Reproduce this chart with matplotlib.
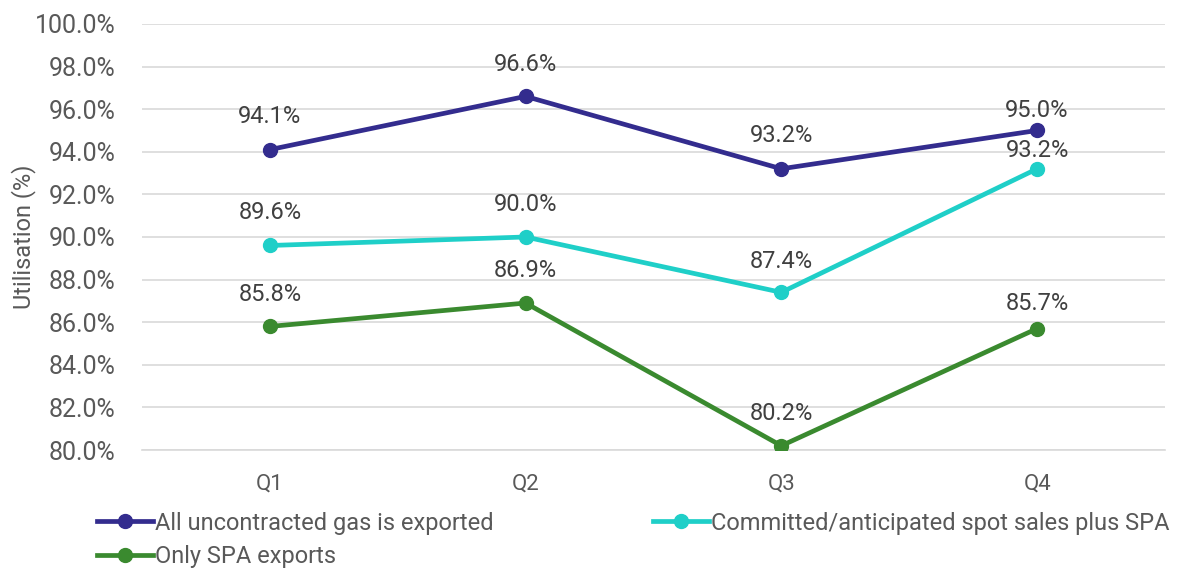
import matplotlib
matplotlib.use("Agg")
import matplotlib.pyplot as plt
from matplotlib.ticker import FuncFormatter

plt.rcParams['font.family'] = ['Roboto', 'DejaVu Sans']

quarters = ["Q1", "Q2", "Q3", "Q4"]
all_uncontracted = [94.1, 96.6, 93.2, 95.0]
committed_spot = [89.6, 90.0, 87.4, 93.2]
only_spa = [85.8, 86.9, 80.2, 85.7]

series = [
    ("All uncontracted gas is exported", all_uncontracted, "#332C8E"),
    ("Committed/anticipated spot sales plus SPA", committed_spot, "#1FCFC8"),
    ("Only SPA exports", only_spa, "#3A8A2F"),
]
# vertical label offsets (points) per series, per quarter
label_offsets = [
    [23.5, 23, 24, 14.5],
    [23.5, 23.5, 22.5, 13],
    [23, 23.5, 23, 18],
]

text_color = "#595959"
fig = plt.figure(figsize=(11.88, 5.70), dpi=100)
ax = fig.add_axes([0.1195, 0.2105, 0.8611, 0.7475])

x = list(range(len(quarters)))
handles = []
for (name, vals, col), offs in zip(series, label_offsets):
    h, = ax.plot(x, vals, color=col, lw=3.4, marker='o', ms=10, label=name, zorder=3)
    handles.append(h)
    for xi, v, o in zip(x, vals, offs):
        ax.annotate(f"{v:.1f}%", (xi, v), xytext=(0, o), textcoords='offset points',
                    ha='center', va='center', fontsize=17, color="#404040", zorder=4)

ax.set_xlim(-0.5, 3.5)
ax.set_ylim(80, 100)
ax.set_yticks([80 + 2 * i for i in range(11)])
ax.yaxis.set_major_formatter(FuncFormatter(lambda v, p: f"{v:.1f}%"))
ax.set_xticks(x)
ax.set_xticklabels(quarters)
ax.grid(axis='y', color='#D9D9D9', lw=1.2)
ax.set_axisbelow(True)
for s in ['top', 'right', 'left']:
    ax.spines[s].set_visible(False)
ax.spines['bottom'].set_color('#D9D9D9')
ax.spines['bottom'].set_linewidth(1.2)
ax.tick_params(axis='both', length=0, colors=text_color)
ax.tick_params(axis='y', pad=19, labelsize=18)
ax.tick_params(axis='x', pad=17, labelsize=16)
ax.set_ylabel("Utilisation (%)", fontsize=17, color=text_color, labelpad=-1)

leg = fig.legend(handles=[handles[0], handles[2], handles[1]], ncol=2,
                 loc='upper left', bbox_to_anchor=(0.074, 0.119), frameon=False,
                 fontsize=17, handlelength=2.35, handletextpad=0.1,
                 columnspacing=6.75, labelspacing=0.45, borderaxespad=0)
for t in leg.get_texts():
    t.set_color(text_color)

fig.savefig("out.png", dpi=100)
